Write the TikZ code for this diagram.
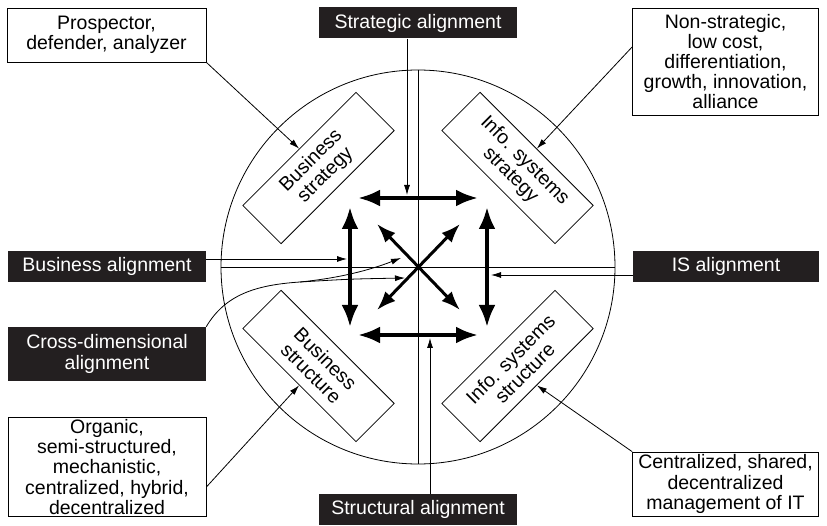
\documentclass[tikz,border=0pt]{standalone}
\usepackage{fontspec}
\setmainfont{Liberation Sans}
\usetikzlibrary{arrows.meta,calc}
\definecolor{labelbg}{RGB}{35,31,32}
\tikzset{
  alignbox/.style={fill=labelbg, text=white, minimum width=198pt, minimum height=31pt, inner sep=2pt, align=center},
  notebox/.style={draw, fill=white, line width=0.8pt, align=center, inner sep=2pt},
  aspectbox/.style={draw, fill=white, line width=0.8pt, minimum width=160pt, minimum height=54pt, align=center, inner sep=1pt},
  thinarrow/.style={-{Latex[length=10pt,width=6pt]}, line width=0.8pt},
  bigarrow/.style={{Latex[length=22pt,width=17pt]}-{Latex[length=22pt,width=17pt]}, line width=4pt},
  diagarrow/.style={{Latex[length=19pt,width=14pt]}-{Latex[length=19pt,width=14pt]}, line width=3pt}
}
\begin{document}
\begin{tikzpicture}[x=1pt,y=-1pt,font=\fontsize{19.5}{20.2}\selectfont]
\useasboundingbox (0,0) rectangle (827,526);

% circle and axes
\node[circle, draw, line width=0.8pt, minimum size=394pt, inner sep=0pt] (circ) at (418,267) {};
\coordinate (c) at (418,267);
\draw[line width=0.8pt] (circ.north) -- (circ.south);
\draw[line width=0.8pt] (circ.west) -- (circ.east);

% the four aspects
\node[aspectbox, rotate=45] (bstrat) at (318.5,168) {Business\\strategy};
\node[aspectbox, rotate=-45] (istrat) at (517.5,168) {Info. systems\\strategy};
\node[aspectbox, rotate=-45] (bstruct) at (318.5,366) {Business\\structure};
\node[aspectbox, rotate=45] (istruct) at (517.5,366) {Info. systems\\structure};

% alignment arrows in the middle
\draw[bigarrow] ($(c)+(-60,-69)$) -- ($(c)+(60,-69)$);
\draw[bigarrow] ($(c)+(-60,68)$) -- ($(c)+(60,68)$);
\draw[bigarrow] ($(c)+(-68,-60)$) -- ($(c)+(-68,60)$);
\draw[bigarrow] ($(c)+(69,-60)$) -- ($(c)+(69,60)$);
\draw[diagarrow] ($(c)+(-41,-43)$) -- ($(c)+(42,43)$);
\draw[diagarrow] ($(c)+(42,-43)$) -- ($(c)+(-41,43)$);

% alignment labels
\node[alignbox] (stratal) at (418,23) {Strategic alignment};
\node[alignbox] (structal) at (418,509.5) {Structural alignment};
\node[alignbox] (busal) at (107,266.5) {Business alignment};
\node[alignbox, minimum width=186pt] (isal) at (726,266.5) {IS alignment};
\node[alignbox, minimum height=54pt] (crossal) at (107,354) {Cross-dimensional\\alignment};

\draw[thinarrow] ([xshift=-11pt]stratal.south) -- ($(c)+(-11,-72)$);
\draw[thinarrow] ([xshift=12pt]structal.north) -- ($(c)+(12,71)$);
\draw[thinarrow] ([yshift=7.5pt]busal.east) -- ($(c)+(-71,-8)$);
\draw[thinarrow] ([yshift=-8.5pt]isal.west) -- ($(c)+(73,8)$);

% cross-dimensional curve
\coordinate (split) at (300,282);
\draw[line width=0.8pt] (crossal.north east) .. controls (225,295) and (255,285) .. (split);
\draw[thinarrow] (split) .. controls (340,278) and (370,270) .. (401,258);
\draw[thinarrow] (split) .. controls (350,279) .. (405,278);

% notes in the corners
\node[notebox, minimum width=199pt, minimum height=54pt] (prosp) at (106.5,35) {Prospector,\\defender, analyzer};
\node[notebox, minimum width=186pt, minimum height=107pt] (nonstrat) at (725.5,61.5) {Non-strategic,\\low cost,\\differentiation,\\growth, innovation,\\alliance};
\node[notebox, minimum width=198pt, minimum height=96pt] (organic) at (107,467) {Organic,\\semi-structured,\\mechanistic,\\centralized, hybrid,\\decentralized};
\node[notebox, minimum width=186pt, minimum height=64pt] (centr) at (725.5,484) {Centralized, shared,\\decentralized\\management of IT};

\draw[thinarrow] (prosp.south east) -- (bstrat.north);
\draw[thinarrow] ([yshift=14.5pt]nonstrat.west) -- (istrat.north);
\draw[thinarrow] ([yshift=-20pt]organic.east) -- (bstruct.south);
\draw[thinarrow] (centr.north west) -- (istruct.south);

\end{tikzpicture}
\end{document}
